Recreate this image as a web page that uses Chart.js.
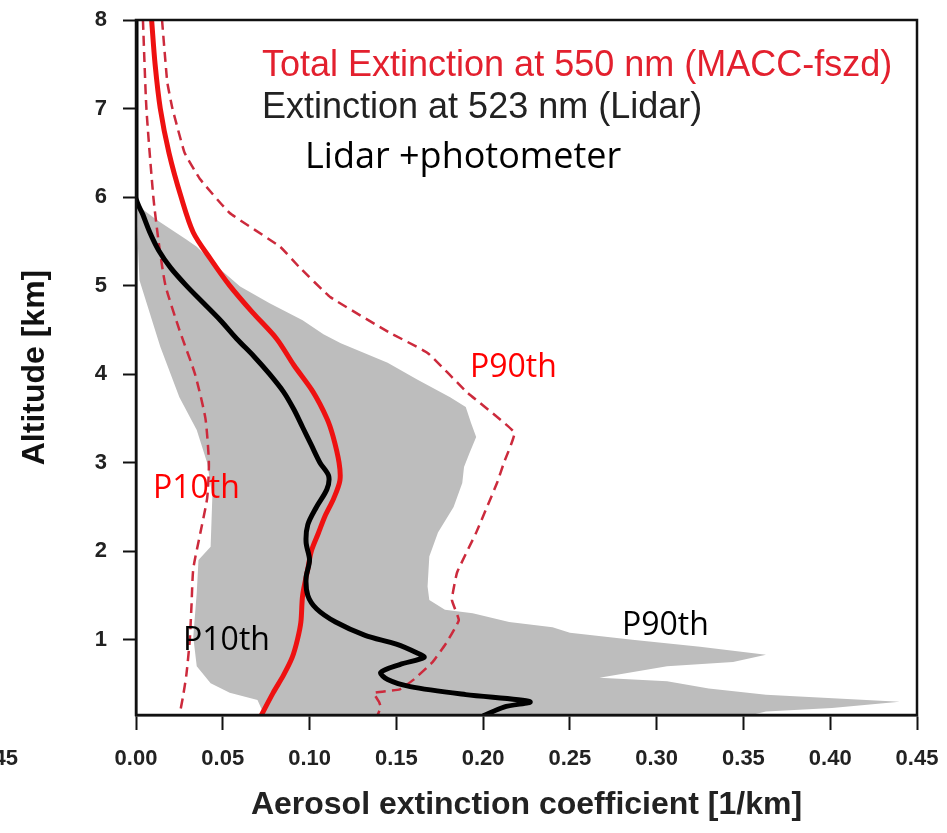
<!DOCTYPE html>
<html>
<head>
<meta charset="utf-8">
<script src="https://cdn.jsdelivr.net/npm/chart.js@4.4.1/dist/chart.umd.min.js"></script>
<style>
  html, body { margin: 0; padding: 0; background: #fff; }
</style>
</head>
<body>
<canvas id="profile" width="947" height="833"></canvas>
<script>
// tick labels
const xTicks = [0, 0.05, 0.10, 0.15, 0.20, 0.25, 0.30, 0.35, 0.40, 0.45];
const yTicks = [1, 2, 3, 4, 5, 6, 7, 8];

// lidar mean extinction (523 nm)
const lidarAlt = [8.0, 6.0, 5.8, 5.6, 5.4, 5.2, 5.0, 4.8, 4.6, 4.4, 4.2, 4.0, 3.8, 3.6, 3.4, 3.2, 3.0, 2.85, 2.7, 2.5, 2.3, 2.1, 1.9, 1.7, 1.5, 1.35, 1.2, 1.05, 0.95, 0.85, 0.80, 0.72, 0.63, 0.55, 0.47, 0.38, 0.30, 0.24, 0.14];
const lidarExt = [0.0, 0.0, 0.004, 0.008, 0.013, 0.020, 0.029, 0.039, 0.049, 0.058, 0.068, 0.077, 0.085, 0.091, 0.096, 0.101, 0.106, 0.111, 0.110, 0.104, 0.099, 0.098, 0.100, 0.098, 0.099, 0.104, 0.115, 0.132, 0.150, 0.162, 0.166, 0.152, 0.141, 0.145, 0.158, 0.190, 0.227, 0.212, 0.200];

// lidar+photometer P90 (right edge of grey band), top to bottom
const lidarP90Alt = [5.92, 5.74, 5.52, 5.44, 5.21, 4.99, 4.80, 4.61, 4.45, 4.35, 4.13, 3.94, 3.74, 3.63, 3.45, 3.29, 3.10, 2.95, 2.77, 2.50, 2.21, 1.94, 1.60, 1.45, 1.34, 1.30, 1.20, 1.14, 1.08, 1.00, 0.92, 0.83, 0.75, 0.70, 0.57, 0.53, 0.45, 0.38, 0.30, 0.23, 0.19, 0.10];
const lidarP90 = [0.0, 0.012, 0.029, 0.035, 0.047, 0.060, 0.077, 0.096, 0.108, 0.118, 0.145, 0.162, 0.181, 0.190, 0.193, 0.196, 0.192, 0.189, 0.188, 0.183, 0.174, 0.169, 0.168, 0.169, 0.178, 0.194, 0.215, 0.240, 0.250, 0.286, 0.325, 0.363, 0.344, 0.306, 0.267, 0.306, 0.330, 0.363, 0.440, 0.401, 0.363, 0.344];

// lidar+photometer P10 (left edge of grey band), bottom to top
const lidarP10Alt = [0.10, 0.32, 0.40, 0.51, 0.70, 1.03, 1.53, 1.90, 2.05, 2.62, 3.00, 3.37, 3.74, 4.31, 5.06, 5.92];
const lidarP10 = [0.075, 0.070, 0.054, 0.043, 0.035, 0.033, 0.035, 0.036, 0.043, 0.044, 0.041, 0.035, 0.025, 0.014, 0.002, 0.0];

// MACC-fszd total extinction (550 nm)
const maccAlt = [8.0, 7.5, 7.0, 6.5, 6.0, 5.6, 5.3, 5.0, 4.7, 4.4, 4.1, 3.8, 3.5, 3.3, 3.0, 2.8, 2.6, 2.4, 2.2, 2.0, 1.8, 1.5, 1.2, 1.0, 0.8, 0.6, 0.4, 0.14];
const maccExt = [0.009, 0.011, 0.014, 0.019, 0.026, 0.033, 0.043, 0.054, 0.067, 0.081, 0.091, 0.102, 0.110, 0.1135, 0.117, 0.1175, 0.114, 0.109, 0.105, 0.101, 0.099, 0.096, 0.095, 0.093, 0.090, 0.085, 0.079, 0.072];

const maccP10Alt = [8.0, 7.0, 6.0, 5.5, 5.0, 4.5, 4.0, 3.5, 3.0, 2.6, 2.2, 1.8, 1.4, 1.0, 0.6, 0.35, 0.14];
const maccP10 = [0.004, 0.006, 0.010, 0.013, 0.017, 0.025, 0.034, 0.040, 0.042, 0.041, 0.037, 0.033, 0.032, 0.031, 0.029, 0.027, 0.025];

const maccP90Alt = [8.0, 7.3, 7.0, 6.5, 6.2, 5.82, 5.44, 5.21, 4.87, 4.47, 4.24, 3.79, 3.34, 3.0, 2.77, 2.21, 1.76, 1.45, 1.22, 0.97, 0.75, 0.55, 0.44, 0.40, 0.30, 0.24, 0.14];
const maccP90 = [0.015, 0.018, 0.021, 0.028, 0.037, 0.054, 0.083, 0.094, 0.112, 0.146, 0.168, 0.191, 0.218, 0.212, 0.208, 0.196, 0.185, 0.182, 0.186, 0.179, 0.171, 0.160, 0.152, 0.137, 0.140, 0.141, 0.139];

const toPts = (alt, val) => alt.map((a, i) => ({x: val[i], y: a}));

const band = toPts(lidarP90Alt, lidarP90).concat(toPts(lidarP10Alt, lidarP10));

// text annotations, placed in data units
const notes = [
  {text: 'Total Extinction at 550 nm (MACC-fszd)', x: 0.0726, y: 7.37, color: '#e3202e', font: '36px "Liberation Sans", Arial, sans-serif'},
  {text: 'Extinction at 523 nm (Lidar)', x: 0.0726, y: 6.894, color: '#222', font: '36px "Liberation Sans", Arial, sans-serif'},
  {text: 'Lidar +photometer', x: 0.0974, y: 6.33, color: '#000', font: '36px "Open Sans", sans-serif'},
  {text: 'P90th', x: 0.1924, y: 3.969, color: '#ff0000', font: '32px "Open Sans", sans-serif'},
  {text: 'P10th', x: 0.0098, y: 2.603, color: '#ff0000', font: '32px "Open Sans", sans-serif'},
  {text: 'P10th', x: 0.0271, y: 0.887, color: '#000', font: '32px "Open Sans", sans-serif'},
  {text: 'P90th', x: 0.280, y: 1.056, color: '#000', font: '32px "Open Sans", sans-serif'}
];

const frame = {
  id: 'frame',
  afterDatasetsDraw(chart) {
    const {ctx, chartArea: a} = chart;
    ctx.save();
    ctx.strokeStyle = '#111';
    ctx.lineWidth = 2.5;
    ctx.strokeRect(a.left, a.top, a.right - a.left, a.bottom - a.top);
    ctx.restore();
  }
};

const labels = {
  id: 'labels',
  afterDraw(chart) {
    const {ctx, scales: {x, y}} = chart;
    ctx.save();
    ctx.textAlign = 'left';
    ctx.textBaseline = 'alphabetic';
    notes.forEach(n => {
      ctx.font = n.font;
      ctx.fillStyle = n.color;
      ctx.fillText(n.text, x.getPixelForValue(n.x), y.getPixelForValue(n.y));
    });
    // cut-off tick label of the neighbouring panel
    ctx.font = 'bold 22px "Liberation Sans", Arial, sans-serif';
    ctx.fillStyle = '#222';
    ctx.textAlign = 'right';
    ctx.fillText('0.45', 18, 765);
    ctx.restore();
  }
};

const fam = '"Liberation Sans", Arial, sans-serif';

new Chart(document.getElementById('profile'), {
  type: 'scatter',
  data: {
    datasets: [{
      label: 'Extinction at 523 nm (Lidar)',
      data: toPts(lidarAlt, lidarExt),
      showLine: true,
      borderColor: '#000',
      borderWidth: 5,
      tension: 0.3,
      pointRadius: 0
    }, {
      label: 'Total Extinction at 550 nm (MACC-fszd)',
      data: toPts(maccAlt, maccExt),
      showLine: true,
      borderColor: '#ee1111',
      borderWidth: 5,
      tension: 0.3,
      pointRadius: 0
    }, {
      label: 'MACC P10',
      data: toPts(maccP10Alt, maccP10),
      showLine: true,
      borderColor: '#cc2a3c',
      borderWidth: 2.5,
      borderDash: [10, 6],
      tension: 0.2,
      pointRadius: 0
    }, {
      label: 'MACC P90',
      data: toPts(maccP90Alt, maccP90),
      showLine: true,
      borderColor: '#cc2a3c',
      borderWidth: 2.5,
      borderDash: [10, 6],
      tension: 0.1,
      pointRadius: 0
    }, {
      label: 'Lidar+photometer P10-P90',
      data: band,
      showLine: true,
      borderWidth: 0,
      borderColor: 'rgba(0,0,0,0)',
      backgroundColor: '#bdbdbd',
      fill: 'shape',
      tension: 0,
      pointRadius: 0
    }]
  },
  options: {
    responsive: false,
    animation: false,
    layout: {padding: {top: 20, right: 30, bottom: 0, left: 0}},
    plugins: {legend: {display: false}, tooltip: {enabled: false}},
    scales: {
      x: {
        type: 'linear',
        min: 0,
        max: 0.45,
        afterBuildTicks: s => { s.ticks = xTicks.map(v => ({value: v})); },
        afterFit: s => { s.height = 118; s.paddingLeft = 0; s.paddingRight = 0; },
        grid: {drawOnChartArea: false, tickLength: 15, tickWidth: 2, tickColor: '#111'},
        border: {color: '#111', width: 2.5},
        ticks: {
          color: '#222',
          font: {family: fam, size: 22, weight: 'bold'},
          padding: 16,
          maxRotation: 0,
          autoSkip: false,
          callback: v => v.toFixed(2)
        },
        title: {
          display: true,
          text: 'Aerosol extinction coefficient [1/km]',
          color: '#222',
          font: {family: fam, size: 32, weight: 'bold'},
          padding: {top: 0, bottom: 9}
        }
      },
      y: {
        type: 'linear',
        min: 0.15,
        max: 8,
        afterBuildTicks: s => { s.ticks = yTicks.map(v => ({value: v})); },
        afterFit: s => { s.width = 136; s.paddingTop = 0; s.paddingBottom = 0; },
        grid: {drawOnChartArea: false, tickLength: 13, tickWidth: 2, tickColor: '#111'},
        border: {color: '#111', width: 2.5},
        ticks: {
          color: '#222',
          font: {family: fam, size: 22, weight: 'bold'},
          padding: 16,
          autoSkip: false,
          callback: v => String(v)
        },
        title: {
          display: true,
          text: 'Altitude [km]',
          color: '#111',
          font: {family: fam, size: 32, weight: 'bold'},
          padding: {top: 16, bottom: 0}
        }
      }
    }
  },
  plugins: [frame, labels]
});
</script>
</body>
</html>
